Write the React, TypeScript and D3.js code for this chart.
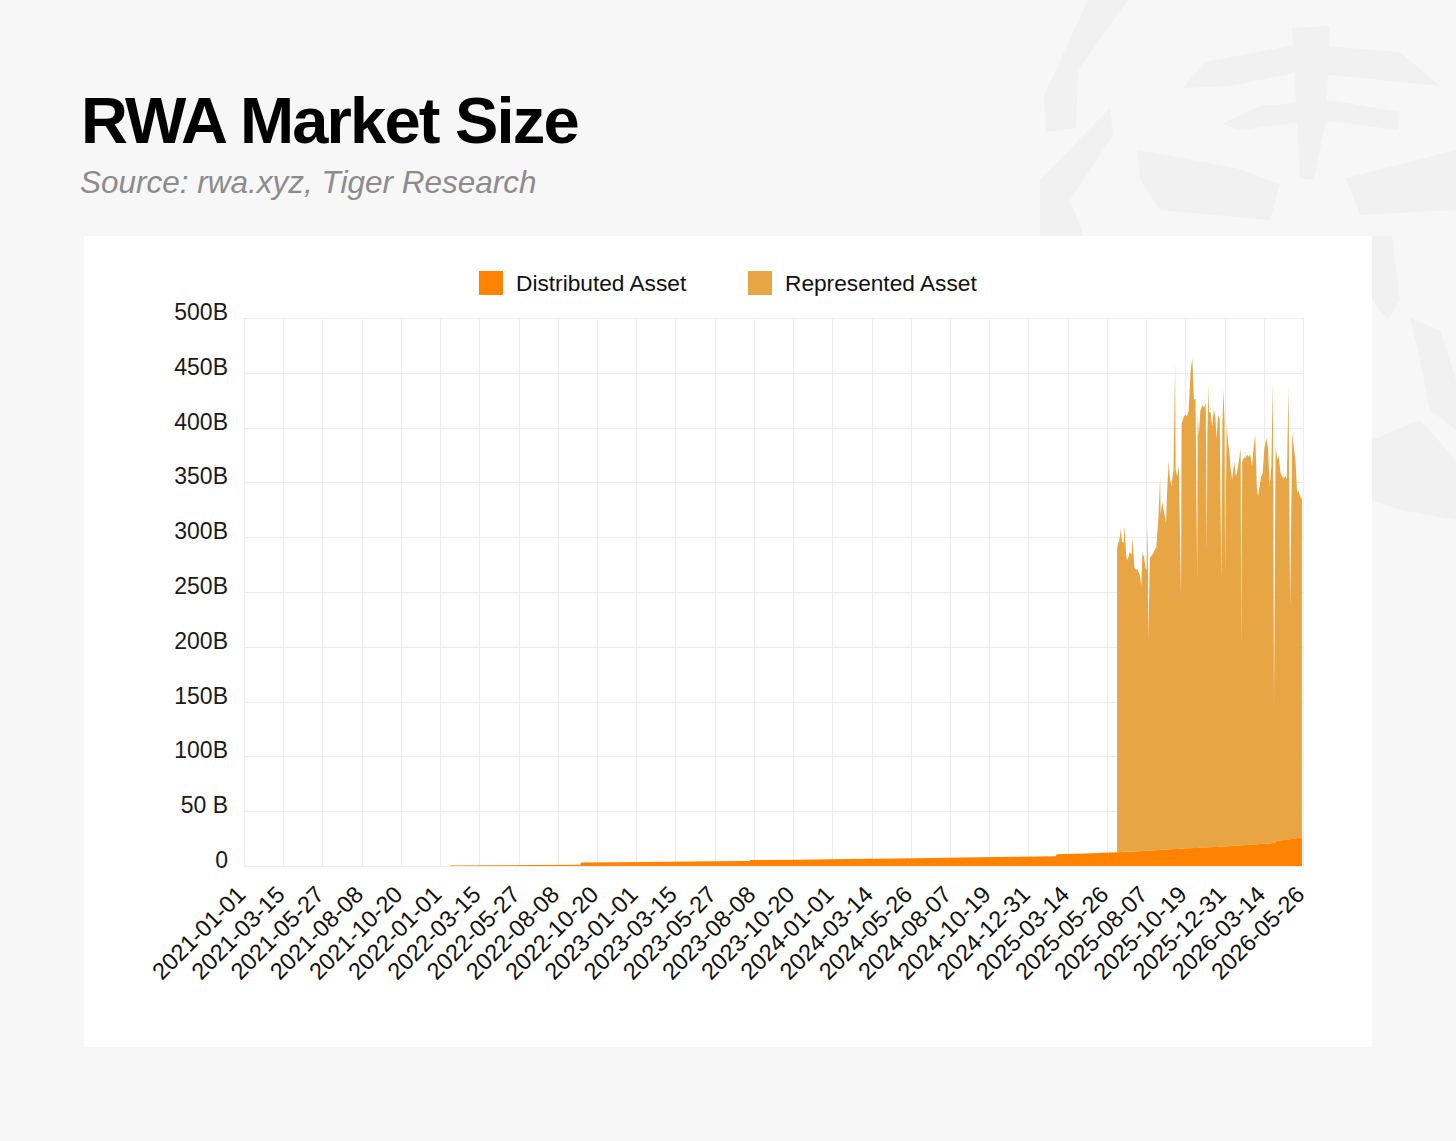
import { useEffect, useRef } from 'react';
import * as d3 from 'd3';

const X_TICKS = [
  '2021-01-01', '2021-03-15', '2021-05-27', '2021-08-08', '2021-10-20',
  '2022-01-01', '2022-03-15', '2022-05-27', '2022-08-08', '2022-10-20',
  '2023-01-01', '2023-03-15', '2023-05-27', '2023-08-08', '2023-10-20',
  '2024-01-01', '2024-03-14', '2024-05-26', '2024-08-07', '2024-10-19',
  '2024-12-31', '2025-03-14', '2025-05-26', '2025-08-07', '2025-10-19',
  '2025-12-31', '2026-03-14', '2026-05-26',
];
const Y_TICKS = [0, 50, 100, 150, 200, 250, 300, 350, 400, 450, 500];
const Y_LABELS = ['0', '50 B', '100B', '150B', '200B', '250B', '300B', '350B', '400B', '450B', '500B'];
const SERIES = ['Distributed Asset', 'Represented Asset'];
const COLORS = ['#FF8200', '#E8A544'];

// Distributed asset value, $B
const DISTRIBUTED: [string, number][] = [
  ['2022-01-19', 0.5], ['2022-04-01', 0.7], ['2022-07-01', 0.9], ['2022-09-19', 1.1],
  ['2022-09-20', 3.2], ['2022-12-01', 3.5], ['2023-03-01', 3.9], ['2023-06-01', 4.3],
  ['2023-07-30', 4.6], ['2023-08-01', 5.4], ['2023-11-01', 5.8], ['2024-02-01', 6.3],
  ['2024-05-01', 6.9], ['2024-08-01', 7.5], ['2024-11-01', 8.1], ['2025-02-20', 8.8],
  ['2025-02-22', 10.8], ['2025-04-15', 11.3], ['2025-06-14', 12.6], ['2025-08-01', 13.8],
  ['2025-10-01', 15.5], ['2025-12-01', 17.0], ['2026-01-15', 18.3], ['2026-02-28', 19.8],
  ['2026-04-03', 21.0], ['2026-04-05', 22.5], ['2026-05-24', 26.0],
];

// Represented asset value, $B (stacked on distributed)
const REPRESENTED: [string, number][] = [
  ['2025-06-14', 277], ['2025-06-16', 282], ['2025-06-18', 284], ['2025-06-21', 295],
  ['2025-06-23', 283], ['2025-06-26', 282], ['2025-06-28', 297], ['2025-07-01', 269],
  ['2025-07-04', 266], ['2025-07-07', 273], ['2025-07-11', 271], ['2025-07-13', 286],
  ['2025-07-16', 259], ['2025-07-19', 257], ['2025-07-22', 257], ['2025-07-26', 252],
  ['2025-07-29', 242], ['2025-07-31', 272], ['2025-08-03', 268], ['2025-08-06', 258],
  ['2025-08-08', 256], ['2025-08-10', 300], ['2025-08-11', 192], ['2025-08-14', 267],
  ['2025-08-19', 270], ['2025-08-23', 274], ['2025-08-26', 276], ['2025-08-30', 304],
  ['2025-09-02', 340], ['2025-09-03', 306], ['2025-09-06', 317], ['2025-09-10', 306],
  ['2025-09-13', 298], ['2025-09-15', 325], ['2025-09-18', 354], ['2025-09-20', 340],
  ['2025-09-23', 331], ['2025-09-27', 346], ['2025-09-30', 444], ['2025-10-01', 346],
  ['2025-10-04', 340], ['2025-10-07', 350], ['2025-10-11', 230], ['2025-10-12', 388],
  ['2025-10-16', 394], ['2025-10-19', 396], ['2025-10-22', 394], ['2025-10-25', 399],
  ['2025-10-29', 436], ['2025-11-01', 447], ['2025-11-04', 409], ['2025-11-07', 410],
  ['2025-11-10', 245], ['2025-11-11', 397], ['2025-11-13', 376], ['2025-11-16', 399],
  ['2025-11-20', 404], ['2025-11-23', 401], ['2025-11-26', 406], ['2025-11-28', 270],
  ['2025-11-29', 378], ['2025-12-01', 422], ['2025-12-02', 397], ['2025-12-05', 397],
  ['2025-12-08', 384], ['2025-12-11', 399], ['2025-12-14', 392], ['2025-12-16', 372],
  ['2025-12-19', 394], ['2025-12-22', 390], ['2025-12-25', 244], ['2025-12-27', 384],
  ['2025-12-29', 417], ['2025-12-31', 388], ['2026-01-01', 249], ['2026-01-04', 385],
  ['2026-01-06', 371], ['2026-01-09', 359], ['2026-01-11', 346], ['2026-01-14', 334],
  ['2026-01-18', 350], ['2026-01-21', 337], ['2026-01-23', 340], ['2026-01-27', 352],
  ['2026-01-30', 362], ['2026-01-31', 182], ['2026-02-02', 350], ['2026-02-05', 354],
  ['2026-02-08', 353], ['2026-02-11', 356], ['2026-02-14', 354], ['2026-02-17', 356],
  ['2026-02-20', 345], ['2026-02-23', 361], ['2026-02-26', 374], ['2026-03-01', 326],
  ['2026-03-03', 317], ['2026-03-06', 326], ['2026-03-09', 335], ['2026-03-12', 338],
  ['2026-03-15', 360], ['2026-03-19', 370], ['2026-03-22', 360], ['2026-03-25', 325],
  ['2026-03-28', 343], ['2026-03-31', 421], ['2026-04-02', 123], ['2026-04-05', 360],
  ['2026-04-08', 348], ['2026-04-11', 351], ['2026-04-14', 336], ['2026-04-17', 332],
  ['2026-04-20', 330], ['2026-04-23', 332], ['2026-04-26', 329], ['2026-04-29', 413],
  ['2026-05-02', 212], ['2026-05-06', 370], ['2026-05-09', 357], ['2026-05-12', 345],
  ['2026-05-15', 315], ['2026-05-18', 317], ['2026-05-21', 311], ['2026-05-24', 309],
];

const FONT = "'Liberation Sans', Arial, Helvetica, sans-serif";

export default function App() {
  const svgRef = useRef<SVGSVGElement>(null);

  useEffect(() => {
    document.body.style.margin = '0';
    if (!svgRef.current) return;
    const svg = d3.select(svgRef.current);
    svg.select('g.chart').remove();

    const CARD = { x: 84, y: 236, w: 1288, h: 811 };
    const PLOT = { left: 244, right: 1303, top: 318, bottom: 866 };
    const parse = d3.utcParse('%Y-%m-%d');

    const root = svg.append('g').attr('class', 'chart');

    // Card
    root.append('rect')
      .attr('x', CARD.x).attr('y', CARD.y)
      .attr('width', CARD.w).attr('height', CARD.h)
      .attr('fill', '#ffffff');

    // Title
    root.append('text')
      .attr('x', 81).attr('y', 143)
      .attr('font-family', FONT).attr('font-weight', 700)
      .attr('font-size', 65).attr('letter-spacing', -1.8)
      .attr('fill', '#000').text('RWA Market Size');
    root.append('text')
      .attr('x', 80).attr('y', 193)
      .attr('font-family', FONT).attr('font-style', 'italic')
      .attr('font-size', 31.5).attr('fill', '#8c8c8c')
      .text('Source: rwa.xyz, Tiger Research');

    const x = d3.scaleUtc()
      .domain([parse(X_TICKS[0])!, parse(X_TICKS[X_TICKS.length - 1])!])
      .range([PLOT.left, PLOT.right]);
    const y = d3.scaleLinear().domain([0, 500]).range([PLOT.bottom, PLOT.top]);

    // Grid
    const grid = root.append('g').attr('stroke', '#ececec').attr('stroke-width', 1);
    Y_TICKS.forEach((t) => {
      grid.append('line')
        .attr('x1', PLOT.left).attr('x2', PLOT.right)
        .attr('y1', Math.round(y(t)) + 0.5).attr('y2', Math.round(y(t)) + 0.5);
    });
    X_TICKS.forEach((t) => {
      const px = Math.round(x(parse(t)!)) + 0.5;
      grid.append('line')
        .attr('x1', px).attr('x2', px)
        .attr('y1', PLOT.top).attr('y2', PLOT.bottom);
    });

    // Stacked areas
    const distDates = DISTRIBUTED.map((d) => parse(d[0])!);
    const distAt = d3.scaleUtc().domain(distDates).range(DISTRIBUTED.map((d) => d[1])).clamp(true);

    const repArea = d3.area<[string, number]>()
      .x((d) => x(parse(d[0])!))
      .y0((d) => y(distAt(parse(d[0])!)))
      .y1((d) => y(distAt(parse(d[0])!) + d[1]));
    root.append('path')
      .datum(REPRESENTED)
      .attr('d', repArea)
      .attr('fill', COLORS[1]);

    const distArea = d3.area<[string, number]>()
      .x((d) => x(parse(d[0])!))
      .y0(y(0))
      .y1((d) => y(d[1]));
    root.append('path')
      .datum(DISTRIBUTED)
      .attr('d', distArea)
      .attr('fill', COLORS[0]);

    // Y labels
    Y_TICKS.forEach((t, i) => {
      root.append('text')
        .attr('x', 228).attr('y', y(t) + 2)
        .attr('text-anchor', 'end')
        .attr('font-family', FONT).attr('font-size', 23)
        .attr('fill', '#1a1a1a')
        .text(Y_LABELS[i]);
    });

    // X labels
    X_TICKS.forEach((t) => {
      const px = x(parse(t)!);
      root.append('text')
        .attr('transform', `translate(${px + 3},${PLOT.bottom + 30}) rotate(-45)`)
        .attr('text-anchor', 'end')
        .attr('font-family', FONT).attr('font-size', 23.5)
        .attr('fill', '#111')
        .text(t);
    });

    // Legend
    const legendX = [479, 748];
    SERIES.forEach((s, i) => {
      root.append('rect')
        .attr('x', legendX[i]).attr('y', 271)
        .attr('width', 24).attr('height', 24)
        .attr('fill', COLORS[i]);
      root.append('text')
        .attr('x', legendX[i] + 37).attr('y', 291)
        .attr('font-family', FONT).attr('font-size', 22.7)
        .attr('fill', '#111')
        .text(s);
    });
  }, []);

  return (
    <svg ref={svgRef} width={1456} height={1141} style={{ display: 'block', background: '#f7f7f7' }}>
      {/* faint brush-stroke watermark */}
      <g fill="#f1f1f1">
        <path d="M1088,0 L1128,0 L1078,70 L1076,128 L1046,132 L1044,96 Z" />
        <path d="M1183,88 L1205,62 L1300,44 L1400,52 L1440,86 L1380,80 L1300,72 L1230,86 Z" />
        <path d="M1292,28 L1330,26 L1326,120 L1314,180 L1300,178 Z" />
        <path d="M1222,124 L1260,106 L1330,100 L1400,112 L1398,130 L1320,120 L1240,130 Z" />
        <path d="M1137,150 L1236,168 L1280,184 L1270,220 L1160,210 L1140,180 Z" />
        <path d="M1346,178 L1456,150 L1456,210 L1360,215 Z" />
        <path d="M1040,180 L1110,108 L1113,135 L1070,200 L1084,236 L1040,236 Z" />
        <path d="M1372,236 L1392,236 L1400,300 L1388,320 L1372,300 Z" />
        <path d="M1410,318 L1440,330 L1456,380 L1456,430 L1430,410 L1420,360 Z" />
        <path d="M1372,440 L1420,420 L1456,460 L1456,520 L1400,510 L1372,500 Z" />
      </g>
    </svg>
  );
}
